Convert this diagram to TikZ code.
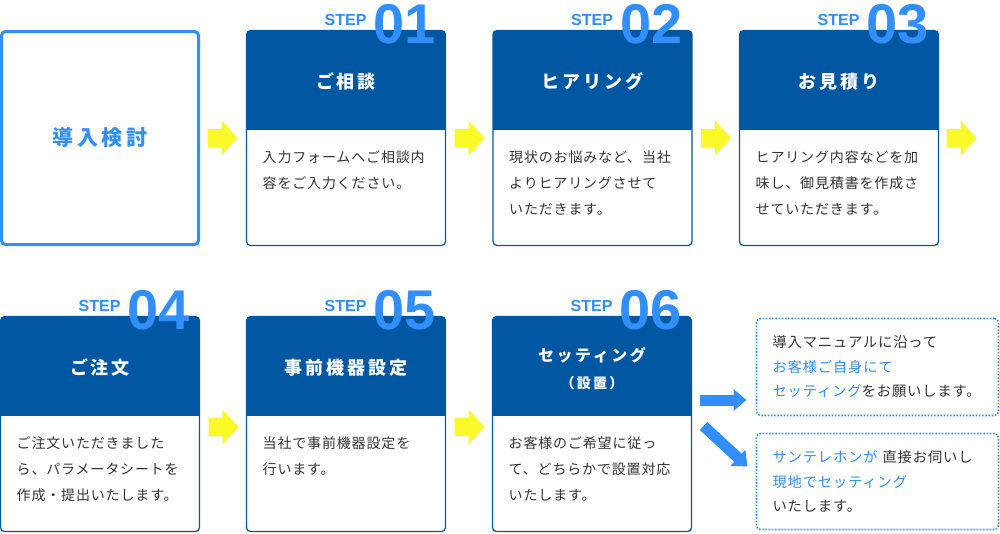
\documentclass[tikz,border=0pt]{standalone}
\usepackage{fontspec}
\usepackage{xcolor}
\usepackage{tikz}
\usetikzlibrary{positioning, arrows.meta}
\setmainfont{Noto Sans CJK JP}[LetterSpace=6]
\newfontfamily\headfont{Noto Sans CJK JP}[LetterSpace=16]
\newfontfamily\stepfont{Liberation Sans}
\definecolor{stepblue}{RGB}{2,87,163}
\definecolor{lightblue}{RGB}{50,142,250}
\definecolor{flowyellow}{RGB}{250,250,40}
\definecolor{textgray}{RGB}{51,51,51}

\tikzset{
    startbox/.style={draw=lightblue, line width=3pt, rounded corners=4pt, minimum width=197pt, minimum height=213pt, inner sep=0pt, outer sep=0pt, text=lightblue, font=\headfont\bfseries\fontsize{21}{25}\selectfont},
    stepbox/.style={draw=stepblue, fill=white, line width=1.2pt, rounded corners=4pt, minimum width=199pt, minimum height=215pt, inner sep=0pt, outer sep=0pt,
        path picture={\fill[stepblue, sharp corners] (path picture bounding box.north west) rectangle ([yshift=-99pt]path picture bounding box.north east);}},
    headtext/.style={text=white, inner sep=0pt, font=\headfont\bfseries\fontsize{18}{22}\selectfont},
    bodytext/.style={text=textgray, inner sep=0pt, anchor=base west, align=left, font=\fontsize{14}{26}\selectfont},
    steplabel/.style={text=lightblue, inner sep=0pt, anchor=base west, font=\stepfont\bfseries\fontsize{16}{18}\selectfont},
    stepnum/.style={text=lightblue, inner sep=0pt, anchor=base west, font=\stepfont\bfseries\fontsize{56}{60}\selectfont},
    choicebox/.style={draw=lightblue, line width=1.6pt, dash pattern=on 1.6pt off 1.6pt, rounded corners=4pt, minimum width=242pt, text width=210pt, inner sep=0pt, outer sep=0pt, align=left, text=textgray, font=\fontsize{14.3}{24.5}\selectfont},
    bluearrow/.style={draw=lightblue, line width=11pt, -{Triangle[length=13pt, width=21pt]}},
    pics/nextarrow/.style={code={\fill[flowyellow] (0,-9) -- (14,-9) -- (14,-17.5) -- (30,0) -- (14,17.5) -- (14,9) -- (0,9) -- cycle;}}
}

\begin{document}
\begin{tikzpicture}[x=1pt, y=-1pt]
    \useasboundingbox (0,0) rectangle (1000,533);

    \node[startbox] (b0) at (100,138) {導入検討};

    \node[stepbox] (s1) at (346,138) {};
    \node[headtext] (h1) at ([yshift=-51pt]s1.north) {ご相談};
    \node[bodytext] (t1) at ([xshift=16pt, yshift=-158pt]s1.north west) {入力フォームへご相談内\\容をご入力ください。};
    \node[steplabel] (l1) at ([xshift=78pt, yshift=5pt]s1.north west) {STEP};
    \node[stepnum] (n1) at ([xshift=127pt, yshift=-13pt]s1.north west) {01};

    \node[stepbox] (s2) at (592.5,138) {};
    \node[headtext] (h2) at ([yshift=-51pt]s2.north) {ヒアリング};
    \node[bodytext] (t2) at ([xshift=16pt, yshift=-184pt]s2.north west) {現状のお悩みなど、当社\\よりヒアリングさせて\\いただきます。};
    \node[steplabel] (l2) at ([xshift=78pt, yshift=5pt]s2.north west) {STEP};
    \node[stepnum] (n2) at ([xshift=127pt, yshift=-13pt]s2.north west) {02};

    \node[stepbox] (s3) at (839,138) {};
    \node[headtext] (h3) at ([yshift=-51pt]s3.north) {お見積り};
    \node[bodytext] (t3) at ([xshift=16pt, yshift=-184pt]s3.north west) {ヒアリング内容などを加\\味し、御見積書を作成さ\\せていただきます。};
    \node[steplabel] (l3) at ([xshift=78pt, yshift=5pt]s3.north west) {STEP};
    \node[stepnum] (n3) at ([xshift=127pt, yshift=-13pt]s3.north west) {03};

    \node[stepbox] (s4) at (100,424) {};
    \node[headtext] (h4) at ([yshift=-51pt]s4.north) {ご注文};
    \node[bodytext] (t4) at ([xshift=16pt, yshift=-184pt]s4.north west) {ご注文いただきました\\ら、パラメータシートを\\作成・提出いたします。};
    \node[steplabel] (l4) at ([xshift=78pt, yshift=5pt]s4.north west) {STEP};
    \node[stepnum] (n4) at ([xshift=127pt, yshift=-13pt]s4.north west) {04};

    \node[stepbox] (s5) at (346,424) {};
    \node[headtext] (h5) at ([yshift=-51pt]s5.north) {事前機器設定};
    \node[bodytext] (t5) at ([xshift=16pt, yshift=-158pt]s5.north west) {当社で事前機器設定を\\行います。};
    \node[steplabel] (l5) at ([xshift=78pt, yshift=5pt]s5.north west) {STEP};
    \node[stepnum] (n5) at ([xshift=127pt, yshift=-13pt]s5.north west) {05};

    \node[stepbox] (s6) at (592,424) {};
    \node[headtext, font=\headfont\bfseries\fontsize{16}{20}\selectfont] (h6) at ([yshift=-39pt]s6.north) {セッティング};
    \node[headtext, font=\headfont\bfseries\fontsize{14}{16}\selectfont] (p6) at ([yshift=-67pt]s6.north) {（設置）};
    \node[bodytext] (t6) at ([xshift=16pt, yshift=-184pt]s6.north west) {お客様のご希望に従っ\\て、どちらかで設置対応\\いたします。};
    \node[steplabel] (l6) at ([xshift=78pt, yshift=5pt]s6.north west) {STEP};
    \node[stepnum] (n6) at ([xshift=127pt, yshift=-13pt]s6.north west) {06};

    \node[choicebox, minimum height=97pt] (rA) at (877.5,367) {導入マニュアルに沿って\\\textcolor{lightblue}{お客様ご自身にて}\\\textcolor{lightblue}{セッティング}をお願いします。};
    \node[choicebox, minimum height=96pt, below=18pt of rA] (rB) {\textcolor{lightblue}{サンテレホンが} 直接お伺いし\\\textcolor{lightblue}{現地でセッティング}\\いたします。};

    \pic at ([xshift=9pt]b0.east) {nextarrow};
    \pic at ([xshift=9pt]s1.east) {nextarrow};
    \pic at ([xshift=9pt]s2.east) {nextarrow};
    \pic at ([xshift=8pt]s3.east) {nextarrow};
    \pic at ([xshift=9pt, yshift=-3pt]s4.east) {nextarrow};
    \pic at ([xshift=9pt, yshift=-3pt]s5.east) {nextarrow};

    \draw[bluearrow] ([xshift=8pt, yshift=24pt]s6.east) -- ([xshift=-10pt, yshift=-33pt]rA.west);
    \draw[bluearrow] ([xshift=12pt, yshift=-2pt]s6.east) -- ([xshift=-9pt, yshift=15pt]rB.west);
\end{tikzpicture}
\end{document}
